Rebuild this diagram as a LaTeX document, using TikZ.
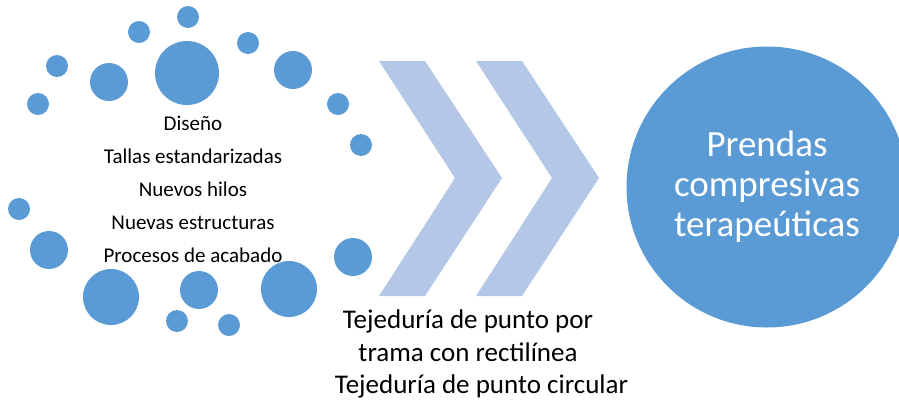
\documentclass[tikz,border=0pt]{standalone}
\usepackage{fontspec}
\setmainfont{Carlito}
\usepackage{xcolor}
\usepackage{tikz}
\definecolor{dotblue}{HTML}{5B9BD5}
\definecolor{chevblue}{HTML}{B4C7E7}

\begin{document}
\begin{tikzpicture}[x=1pt, y=-1pt,
	dot/.style={circle, fill=dotblue, inner sep=0pt},
	chev/.style={fill=chevblue},
	lista/.style={align=center, font=\fontsize{21}{33}\selectfont, text=black}]
					\useasboundingbox (0,0) rectangle (899,405);
					% texto de la izquierda (debajo de los puntos)
					\node[lista] (entradas) at (193,189) {Diseño\\Tallas estandarizadas\\Nuevos hilos\\Nuevas estructuras\\Procesos de acabado};
					\foreach \x/\y/\r [count=\i] in {188/17/11, 139/32/11, 248/43/11, 187/73/32, 57/66/11, 109/82/19, 293/70/19, 38/104/11, 338/104/11, 361/145/11, 19/209/11, 49/250/19, 353/257/19, 111/297/28, 199/290/19, 289/289/28, 177/321/11, 229/325/11}
						\node[dot, minimum size=2*\r] (d\i) at (\x,\y) {};
					% flechas
					\foreach \s in {0,97}
						\fill[chev, xshift=\s] (379,61) -- (425,61) -- (502,178) -- (425,296) -- (379,296) -- (455,178) -- cycle;
					\node[align=center, font=\fontsize{27}{32.5}\selectfont] (tejido) at (468,354) {Tejeduría de punto por\\trama con rectilínea\\\hspace*{1em}Tejeduría de punto circular};
					\node[circle, fill=dotblue, minimum size=281, inner sep=0pt, text=white, align=center, font=\fontsize{37}{40}\selectfont] (prendas) at (767,187) {Prendas\\compresivas\\terapeúticas};
				\end{tikzpicture}
\end{document}
